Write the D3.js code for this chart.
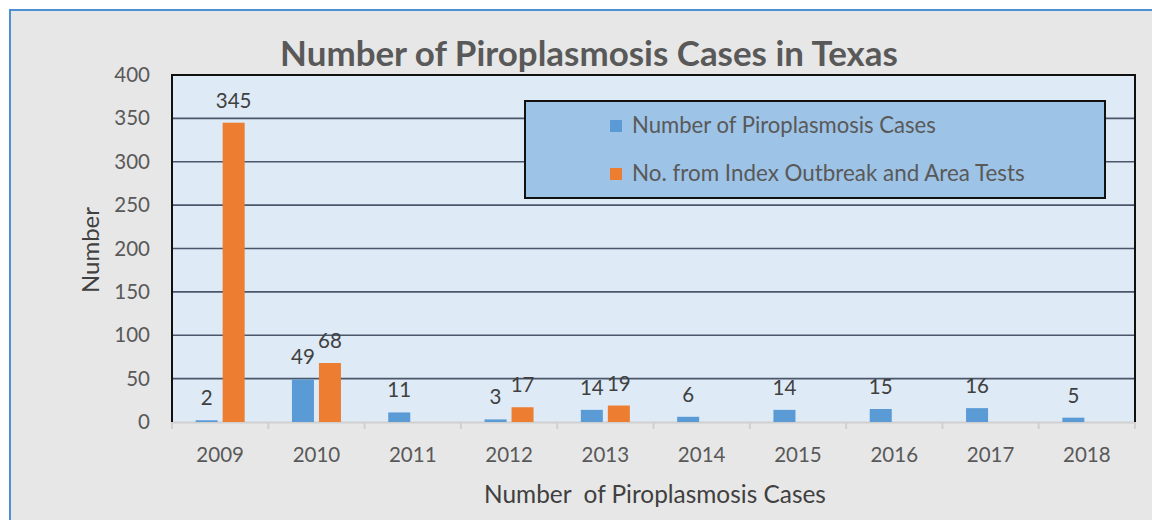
<!DOCTYPE html>
<html><head><meta charset="utf-8">
<script src="https://cdn.jsdelivr.net/npm/d3@7"></script>
<style>body{margin:0;background:#fff}svg{display:block}</style>
</head><body>
<svg id="c" width="1152" height="520"></svg>
<script>
const years = ["2009","2010","2011","2012","2013","2014","2015","2016","2017","2018"];
const seriesNames = ["Number of Piroplasmosis Cases","No. from Index Outbreak and Area Tests"];
const casesValues = [2,49,11,3,14,6,14,15,16,5];
const outbreakValues = [345,68,null,17,19,null,null,null,null,null];
const yTicks = [0,50,100,150,200,250,300,350,400];
const colors = ["#5b9bd5","#ed7d31"];

const svg = d3.select("#c");
const W = 1152, H = 520;
const m = {left:172, right:1135, top:75, bottom:422};
const font = "Lato, 'Open Sans', sans-serif";
const txt = "#595959";
const numSize = 20.5;

// outer frame
svg.append("rect").attr("x",10).attr("y",10).attr("width",W).attr("height",H).attr("fill","#e7e7e7");
svg.append("path").attr("d",`M10,${H} L10,10 L${W},10`).attr("fill","none").attr("stroke","#4f8fd3").attr("stroke-width",2);

const x = d3.scaleBand().domain(years).range([m.left,m.right]).paddingInner(0).paddingOuter(0);
const xs = d3.scaleBand().domain([0,1]).range([0,x.bandwidth()]).paddingInner(0.185).paddingOuter(0.876);
const y = d3.scaleLinear().domain([0,400]).range([m.bottom,m.top]);

// plot bg
svg.append("rect").attr("x",m.left).attr("y",m.top).attr("width",m.right-m.left).attr("height",m.bottom-m.top).attr("fill","#deeaf6");

// gridlines
svg.append("g").selectAll("line").data(yTicks.filter(v=>v>0&&v<400)).join("line")
  .attr("x1",m.left).attr("x2",m.right).attr("y1",d=>y(d)).attr("y2",d=>y(d))
  .attr("stroke","#4a5669").attr("stroke-width",1.6);

// bottom axis
const xAxis = d3.axisBottom(x).tickSize(0).tickFormat(d=>d);
const gx = svg.append("g").attr("transform",`translate(0,${m.bottom})`).call(xAxis);
gx.select(".domain").attr("stroke","#d0d0d0").attr("stroke-width",2);
gx.selectAll(".tick text").attr("font-family",font).attr("font-size",numSize).attr("fill",txt).attr("y",0).attr("dy","1.95em");
const boundaries = years.map(d=>x(d)).concat([m.right]);
svg.append("g").selectAll("line").data(boundaries).join("line")
  .attr("x1",d=>d).attr("x2",d=>d).attr("y1",m.bottom).attr("y2",m.bottom+7)
  .attr("stroke","#d0d0d0").attr("stroke-width",2);

// y axis labels
const yAxis = d3.axisLeft(y).tickValues(yTicks).tickSize(0).tickPadding(22);
const gy = svg.append("g").attr("transform",`translate(${m.left},0)`).call(yAxis);
gy.select(".domain").remove();
gy.selectAll(".tick text").attr("font-family",font).attr("font-size",numSize).attr("fill",txt);

// bars
const seriesData = [casesValues, outbreakValues];
seriesData.forEach((vals,si)=>{
  const g = svg.append("g");
  const data = years.map((yr,i)=>({yr, v: vals[i]})).filter(d=>d.v!=null);
  g.selectAll("rect").data(data).join("rect")
    .attr("x",d=>x(d.yr)+xs(si)).attr("width",xs.bandwidth())
    .attr("y",d=>y(d.v)).attr("height",d=>y(0)-y(d.v))
    .attr("fill",colors[si]);
  g.selectAll("text").data(data).join("text")
    .attr("x",d=>x(d.yr)+xs(si)+xs.bandwidth()/2).attr("y",d=>y(d.v)-15)
    .attr("text-anchor","middle").attr("font-family",font).attr("font-size",numSize).attr("fill","#404040")
    .text(d=>d.v);
});

// plot borders
svg.append("path").attr("d",`M${m.left},${m.bottom} L${m.left},${m.top} L${m.right},${m.top} L${m.right},${m.bottom}`)
  .attr("fill","none").attr("stroke","#111").attr("stroke-width",2);

function fit(sel, target){
  const n = sel.node(); const w = n.getComputedTextLength();
  const fs = parseFloat(sel.attr("font-size"));
  sel.attr("font-size", fs*target/w);
}

// title
const t = svg.append("text").attr("x",589).attr("y",66).attr("text-anchor","middle")
  .attr("font-family",font).attr("font-weight","bold").attr("font-size",30).attr("fill",txt)
  .text("Number of Piroplasmosis Cases in Texas");
fit(t, 618);

// legend
svg.append("rect").attr("x",525).attr("y",101).attr("width",580).attr("height",97)
  .attr("fill","#9dc3e6").attr("stroke","#111").attr("stroke-width",2);
const ly = [126,174];
seriesNames.forEach((nm,i)=>{
  svg.append("rect").attr("x",610).attr("y",ly[i]-6).attr("width",12).attr("height",12).attr("fill",colors[i]);
  const lt = svg.append("text").attr("x",632).attr("y",ly[i]+7).attr("font-family",font).attr("font-size",19).attr("fill",txt).text(nm);
  fit(lt, i===0 ? 304 : 393);
});

// axis titles
const xt = svg.append("text").attr("x",655).attr("y",503).attr("text-anchor","middle")
  .attr("font-family",font).attr("font-size",19).attr("fill","#404040").text("Number  of Piroplasmosis Cases");
xt.style("white-space","pre");
fit(xt, 342);
const yt = svg.append("text").attr("transform","translate(99,250) rotate(-90)").attr("text-anchor","middle")
  .attr("font-family",font).attr("font-size",19).attr("fill","#404040").text("Number");
fit(yt, 86);
</script>
</body></html>
